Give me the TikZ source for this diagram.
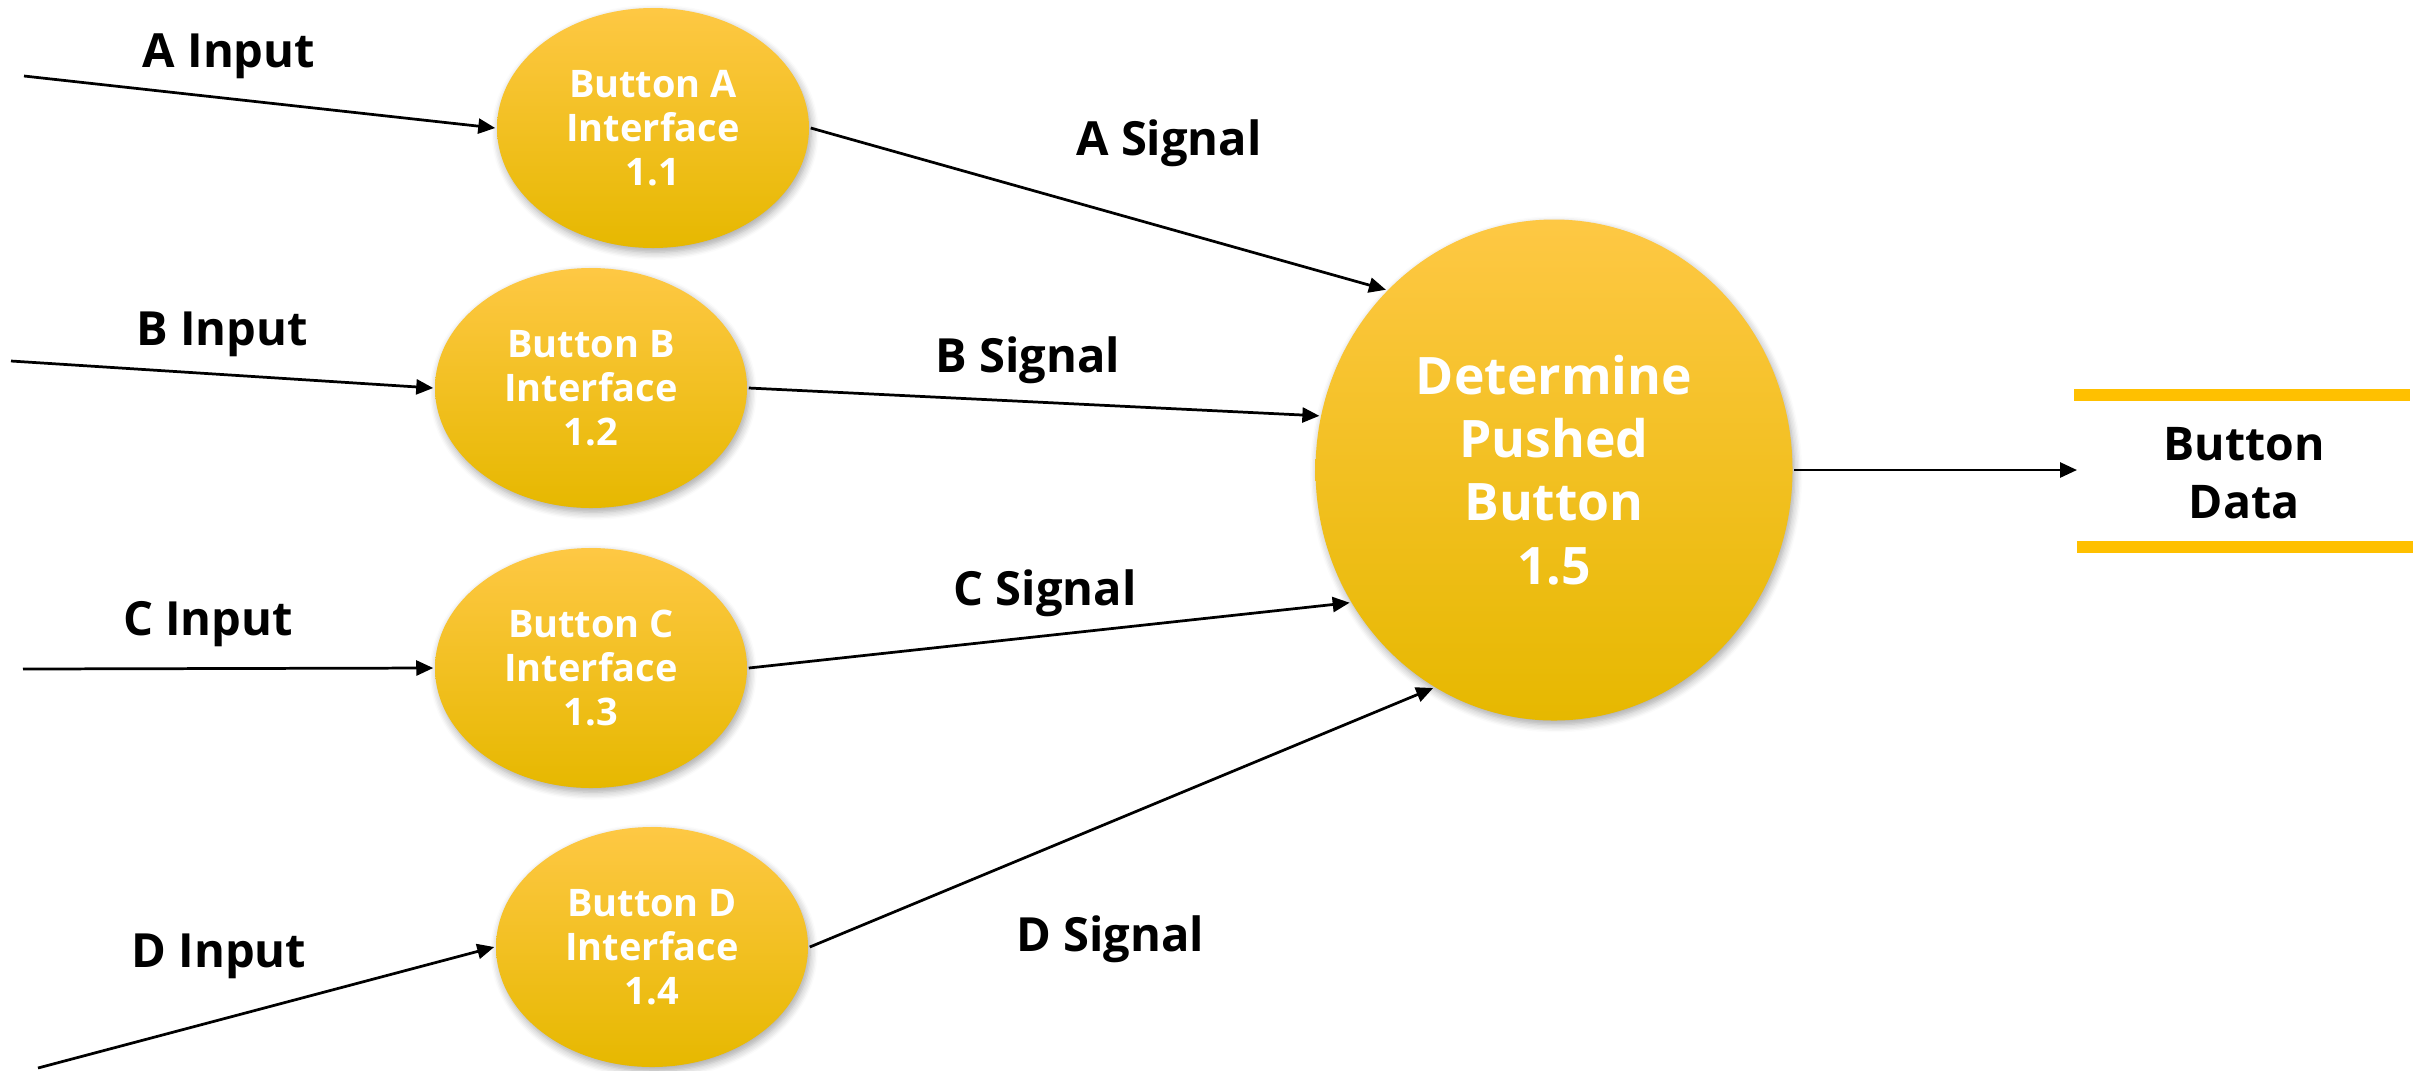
\documentclass[tikz,border=0pt]{standalone}
\usepackage{fontspec}
\setmainfont{Open Sans}
\usetikzlibrary{arrows.meta,shapes.geometric,shadows.blur,calc}

\definecolor{btop}{RGB}{254,200,68}
\definecolor{bmid}{RGB}{255,196,0}
\definecolor{bbot}{RGB}{230,184,0}
\definecolor{storeline}{RGB}{255,192,0}

\begin{document}
\begin{tikzpicture}[
    bubble/.style={ellipse, top color=btop, middle color=bmid, bottom color=bbot,
        blur shadow={shadow xshift=0.6pt, shadow yshift=-1.2pt, shadow opacity=35, shadow blur steps=6},
        inner sep=0pt, outer sep=0.5pt, align=center, text=white,
        font=\fontsize{10.8}{12.6}\selectfont\bfseries},
    flowlabel/.style={anchor=base, font=\fontsize{13.4}{16}\selectfont\bfseries},
    flow/.style={-{Triangle[length=0.17cm,width=0.15cm]}, line width=0.78pt},
    storebar/.style={storeline, line width=0.12cm}
]
    \useasboundingbox (0,0) rectangle (24.28,-10.70);

    \node[bubble, minimum width=3.12cm, minimum height=2.40cm] (ia) at (6.53,-1.28) {Button A\\Interface\\1.1};
    \node[bubble, minimum width=3.12cm, minimum height=2.40cm] (ib) at (5.91,-3.88) {Button B\\Interface\\1.2};
    \node[bubble, minimum width=3.12cm, minimum height=2.40cm] (ic) at (5.91,-6.68) {Button C\\Interface\\1.3};
    \node[bubble, minimum width=3.12cm, minimum height=2.40cm] (id) at (6.52,-9.47) {Button D\\Interface\\1.4};

    \node[bubble, minimum width=4.77cm, minimum height=5.01cm,
        font=\fontsize{14.7}{18}\selectfont\bfseries] (push) at (15.54,-4.70) {Determine\\Pushed\\Button\\1.5};

    \node[align=center, font=\fontsize{13.2}{16.5}\selectfont\bfseries] (data) at (22.44,-4.73) {Button\\Data};
    \draw[storebar] (20.74,-3.95) -- (24.10,-3.95);
    \draw[storebar] (20.77,-5.47) -- (24.13,-5.47);

    \coordinate (ain) at (0.24,-0.76);
    \coordinate (bin) at (0.11,-3.61);
    \coordinate (cin) at (0.23,-6.69);
    \coordinate (din) at (0.38,-10.68);
    \coordinate (dout) at (20.77,-4.70);

    \draw[flow] (ain) -- (ia.west);
    \draw[flow] (bin) -- (ib.west);
    \draw[flow] (cin) -- (ic.west);
    \draw[flow] (din) -- (id.west);

    \draw[flow] (ia.east) -- (push.133);
    \draw[flow] (ib.east) -- (push.167);
    \draw[flow] (ic.east) -- (push.213);
    \draw[flow] (id.east) -- (push.241);
    \draw[flow] (push.east) -- (dout);

    \node[flowlabel] (la) at (2.29,-0.67) {A Input};
    \node[flowlabel] (lb) at (2.22,-3.45) {B Input};
    \node[flowlabel] (lc) at (2.08,-6.35) {C Input};
    \node[flowlabel] (ld) at (2.19,-9.67) {D Input};

    \node[flowlabel] (sa) at (11.69,-1.55) {A Signal};
    \node[flowlabel] (sb) at (10.28,-3.72) {B Signal};
    \node[flowlabel] (sc) at (10.45,-6.05) {C Signal};
    \node[flowlabel] (sd) at (11.10,-9.51) {D Signal};
\end{tikzpicture}
\end{document}
